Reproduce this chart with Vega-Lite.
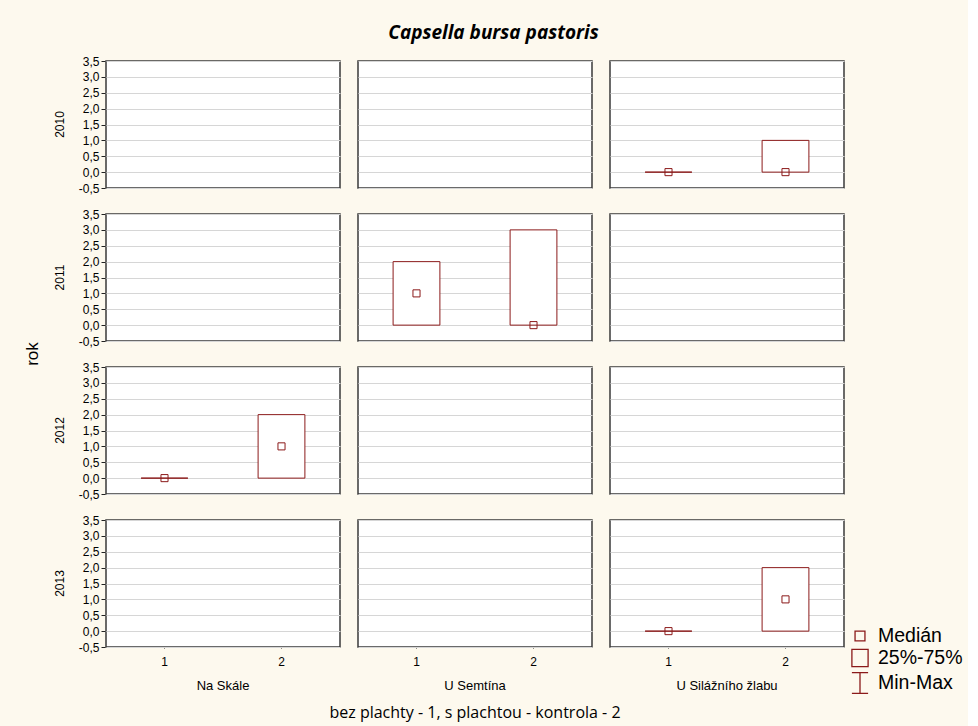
{
  "$schema": "https://vega.github.io/schema/vega-lite/v6.json",
  "background": "#fdf9ee",
  "padding": {"left": 24, "top": 24, "right": 5, "bottom": 5},
  "title": {"text": "Capsella bursa pastoris", "font": "Open Sans", "fontSize": 19, "fontWeight": "bold", "fontStyle": "italic", "color": "black", "anchor": "middle", "offset": 12},
  "data": {"values": [
    {"rok": 2010, "lokalita": "Na Skále", "x": null, "min": null, "q1": null, "median": null, "q3": null, "max": null},
    {"rok": 2010, "lokalita": "U Semtína", "x": null, "min": null, "q1": null, "median": null, "q3": null, "max": null},
    {"rok": 2010, "lokalita": "U Silážního žlabu", "x": "1", "min": 0, "q1": 0, "median": 0, "q3": 0, "max": 0},
    {"rok": 2010, "lokalita": "U Silážního žlabu", "x": "2", "min": 0, "q1": 0, "median": 0, "q3": 1, "max": 1},
    {"rok": 2011, "lokalita": "Na Skále", "x": null, "min": null, "q1": null, "median": null, "q3": null, "max": null},
    {"rok": 2011, "lokalita": "U Semtína", "x": "1", "min": 0, "q1": 0, "median": 1, "q3": 2, "max": 2},
    {"rok": 2011, "lokalita": "U Semtína", "x": "2", "min": 0, "q1": 0, "median": 0, "q3": 3, "max": 3},
    {"rok": 2011, "lokalita": "U Silážního žlabu", "x": null, "min": null, "q1": null, "median": null, "q3": null, "max": null},
    {"rok": 2012, "lokalita": "Na Skále", "x": "1", "min": 0, "q1": 0, "median": 0, "q3": 0, "max": 0},
    {"rok": 2012, "lokalita": "Na Skále", "x": "2", "min": 0, "q1": 0, "median": 1, "q3": 2, "max": 2},
    {"rok": 2012, "lokalita": "U Semtína", "x": null, "min": null, "q1": null, "median": null, "q3": null, "max": null},
    {"rok": 2012, "lokalita": "U Silážního žlabu", "x": null, "min": null, "q1": null, "median": null, "q3": null, "max": null},
    {"rok": 2013, "lokalita": "Na Skále", "x": null, "min": null, "q1": null, "median": null, "q3": null, "max": null},
    {"rok": 2013, "lokalita": "U Semtína", "x": null, "min": null, "q1": null, "median": null, "q3": null, "max": null},
    {"rok": 2013, "lokalita": "U Silážního žlabu", "x": "1", "min": 0, "q1": 0, "median": 0, "q3": 0, "max": 0},
    {"rok": 2013, "lokalita": "U Silážního žlabu", "x": "2", "min": 0, "q1": 0, "median": 1, "q3": 2, "max": 2}
  ]},
  "facet": {
    "row": {"field": "rok", "type": "ordinal", "title": "rok",
      "header": {"labelOrient": "left", "labelAngle": -90, "labelFont": "Liberation Sans", "labelFontSize": 12, "labelColor": "black", "labelPadding": 6,
                 "titleOrient": "left", "titleFont": "Liberation Sans", "titleFontSize": 17, "titleFontWeight": "normal", "titleColor": "black", "titlePadding": 2}},
    "column": {"field": "lokalita", "type": "nominal", "sort": ["Na Skále", "U Semtína", "U Silážního žlabu"], "title": "bez plachty  - 1, s plachtou - kontrola - 2",
      "header": {"labelOrient": "bottom", "labelFont": "Liberation Sans", "labelFontSize": 13, "labelColor": "black", "labelPadding": 13,
                 "titleOrient": "bottom", "titleFont": "Open Sans", "titleFontSize": 16, "titleFontWeight": "normal", "titleColor": "black", "titlePadding": 2}}
  },
  "spacing": {"row": 24, "column": 16},
  "spec": {
    "width": 234,
    "height": 127,
    "layer": [
      {
        "mark": {"type": "rect", "stroke": "#8B1A1A", "strokeWidth": 1, "fill": "white"},
        "encoding": {
          "x": {"field": "x", "type": "ordinal", "scale": {"domain": ["1", "2"], "paddingInner": 0.6, "paddingOuter": 0.3},
                "axis": {"title": null, "labelAngle": 0, "grid": false, "domain": false, "tickSize": -4, "labelPadding": 12}},
          "y": {"field": "q1", "type": "quantitative", "scale": {"domain": [-0.5, 3.5], "nice": false, "zero": false},
                "axis": {"title": null, "values": [-0.5, 0, 0.5, 1, 1.5, 2, 2.5, 3, 3.5], "tickCount": 9, "labelOverlap": false, "labelExpr": "replace(replace(format(datum.value, '.1f'), '.', ','), '\u2212', '-')", "grid": true, "domain": false, "tickSize": 4, "labelPadding": 2}},
          "y2": {"field": "q3"}
        }
      },
      {
        "mark": {"type": "point", "filled": false, "stroke": "#8B1A1A", "strokeWidth": 1, "size": 165, "opacity": 1},
        "encoding": {
          "x": {"field": "x", "type": "ordinal"},
          "y": {"field": "median", "type": "quantitative"},
          "shape": {"datum": "Medián",
            "scale": {"domain": ["Medián", "25%-75%", "Min-Max"], "range": ["M-0.55,-0.55H0.55V0.55H-0.55Z", "M-0.9,-0.95H0.9V0.95H-0.9Z", "M-0.9,-1.15H0.9M0,-1.15V1.15M-0.9,1.15H0.9"]},
            "legend": {"orient": "none", "legendX": 744, "legendY": 565, "title": null, "symbolSize": 324, "symbolStrokeWidth": 1.3, "symbolStrokeColor": "#8B1A1A", "symbolFillColor": "transparent", "labelFont": "Liberation Sans", "labelFontSize": 19.5, "labelColor": "black", "rowPadding": 0, "labelOffset": 8}}
        }
      }
    ]
  },
  "config": {
    "view": {"stroke": "#3a3a3a", "strokeWidth": 1.5, "fill": "white"},
    "axis": {"labelFont": "Liberation Sans", "labelFontSize": 12, "labelColor": "black", "tickColor": "#222", "gridColor": "#d6d6d6", "gridWidth": 1}
  }
}
